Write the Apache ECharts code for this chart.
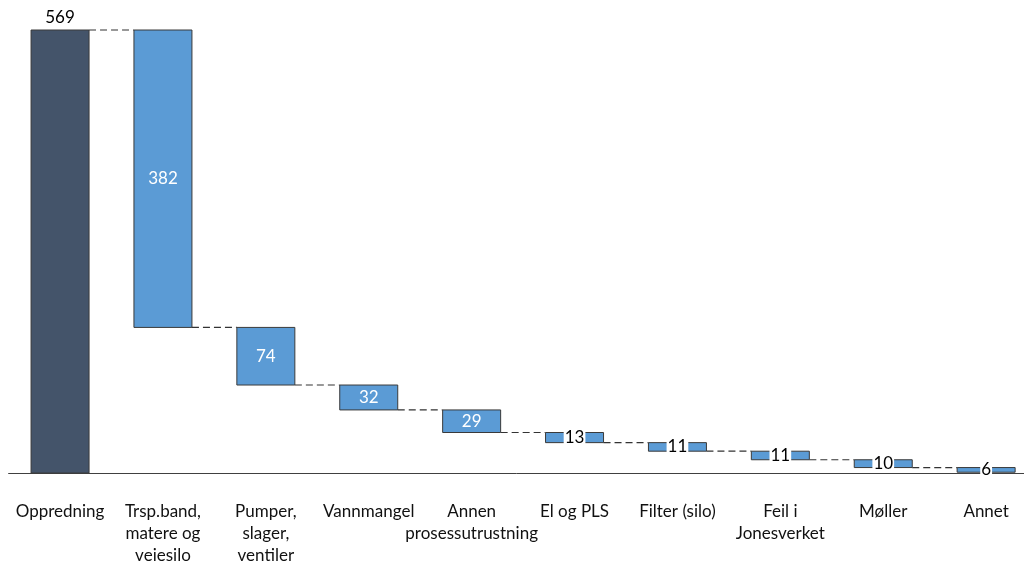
<!DOCTYPE html>
<html>
<head>
<meta charset="utf-8">
<script src="https://cdn.jsdelivr.net/npm/echarts@6/dist/echarts.min.js"></script>
<style>
  html, body { margin: 0; padding: 0; background: #fff; width: 1024px; height: 563px; overflow: hidden; }
  #chart { width: 1024px; height: 563px; overflow: hidden; }
</style>
</head>
<body>
<div id="chart"></div>
<script>
// Stoppårsaker: total og fordeling per kategori
const categories = [
  'Oppredning',
  'Trsp.band,\nmatere og\nveiesilo',
  'Pumper,\nslager,\nventiler',
  'Vannmangel',
  'Annen\nprosessutrustning',
  'El og PLS',
  'Filter (silo)',
  'Feil i\nJonesverket',
  'Møller',
  'Annet'
];
const total = 569;
const decreases = [382, 74, 32, 29, 13, 11, 11, 10, 6];

// Floating bars: each step hangs below the previous level
const values = [total].concat(decreases);
const bases = [0];
let level = total;
decreases.forEach(function (d) { level -= d; bases.push(level); });

// Connector levels: bottom of bar i joins top of bar i+1
const connectors = [];
for (let i = 0; i < values.length - 1; i++) {
  const lv = i === 0 ? total : bases[i];
  connectors.push([i, lv]);
}

const positions = categories.map(function (c, i) { return i; });
const barData = values.map(function (v, i) { return [i, bases[i], v]; });

const BAR_W = 58;
const FONT = 'Lato, "Open Sans", sans-serif';
const TOTAL_COLOR = '#44546A';
const STEP_COLOR = '#5B9BD5';

const chart = echarts.init(document.getElementById('chart'), null, { renderer: 'canvas', width: 1024, height: 563 });
chart.setOption({
  animation: false,
  backgroundColor: '#fff',
  grid: {
    left: 8.6, right: 0, top: 30, bottom: 90,
    containLabel: false, outerBoundsMode: 'none'
  },
  xAxis: {
    type: 'value',
    min: -0.5,
    max: 9.368,
    splitLine: { show: false },
    axisLine: { show: true, lineStyle: { color: '#404040', width: 1 } },
    axisTick: { show: false },
    axisLabel: {
      customValues: positions,
      formatter: function (v) { return categories[Math.round(v)] || ''; },
      margin: 28, color: '#111', fontFamily: FONT,
      fontSize: 17, lineHeight: 22, align: 'center'
    }
  },
  yAxis: {
    type: 'value', min: 0, max: total, show: false,
    splitLine: { show: false }
  },
  series: [
    {
      type: 'custom',
      data: connectors,
      encode: { x: 0, y: 1 },
      z: 2,
      silent: true,
      renderItem: function (params, api) {
        const i = api.value(0);
        const lv = api.value(1);
        const p0 = api.coord([i, lv]);
        const p1 = api.coord([i + 1, lv]);
        return {
          type: 'line',
          shape: { x1: p0[0] + BAR_W / 2, y1: p0[1], x2: p1[0] - BAR_W / 2, y2: p1[1] },
          style: { stroke: '#333', lineWidth: 1.2, lineDash: [7, 4] }
        };
      }
    },
    {
      type: 'custom',
      data: barData,
      encode: { x: 0, y: [1, 2] },
      z: 3,
      renderItem: function (params, api) {
        const i = api.value(0);
        const base = api.value(1);
        const v = api.value(2);
        const top = api.coord([i, base + v]);
        const bottom = api.coord([i, base]);
        const isTotal = i === 0;
        const small = v < 20;
        const textStyle = {
          text: String(v),
          fontFamily: FONT,
          fontSize: 17,
          fill: isTotal || small ? '#000' : '#fff'
        };
        if (small) {
          textStyle.backgroundColor = '#fff';
          textStyle.padding = [0, 1, 0, 1];
          textStyle.lineHeight = 18;
        }
        return {
          type: 'rect',
          shape: {
            x: top[0] - BAR_W / 2,
            y: top[1],
            width: BAR_W,
            height: bottom[1] - top[1]
          },
          style: {
            fill: isTotal ? TOTAL_COLOR : STEP_COLOR,
            stroke: '#3a3a3a',
            lineWidth: 1
          },
          textContent: { style: textStyle, z2: 10 },
          textConfig: { position: isTotal ? 'top' : 'inside', distance: 3 }
        };
      }
    }
  ]
});
</script>
</body>
</html>
